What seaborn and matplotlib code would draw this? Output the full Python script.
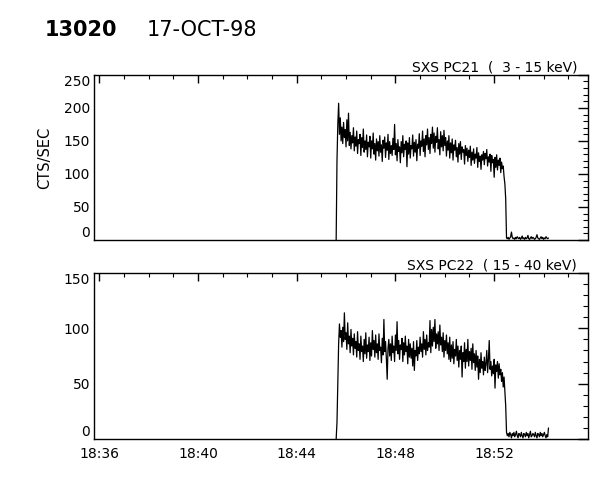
import pandas as pd
import matplotlib
matplotlib.use("Agg")
import matplotlib.pyplot as plt
import matplotlib.dates as mdates
import seaborn as sns

OBS_ID = "13020"
OBS_DATE = "17-OCT-98"
START_TIME = "1998-10-17 18:45:36"
STEP = "2s"
XLIM = ("1998-10-17 18:35:48", "1998-10-17 18:55:48")

# SXS PC21 (3 - 15 keV), counts/sec, one value per 2 s
pc21_counts = [
    0, 120, 175, 207, 160, 185, 150, 171, 146, 178,
    155, 167, 141, 182, 150, 192, 143, 163, 138, 158,
    147, 170, 135, 156, 142, 165, 131, 152, 146, 160,
    128, 155, 140, 168, 133, 150, 137, 159, 126, 148,
    141, 157, 124, 150, 138, 162, 130, 146, 121, 153,
    135, 149, 127, 158, 133, 144, 119, 151, 139, 156,
    125, 147, 136, 160, 122, 149, 131, 143, 128, 154,
    137, 175, 129, 146, 120, 152, 134, 141, 117, 149,
    132, 158, 126, 145, 137, 150, 111, 147, 130, 155,
    124, 143, 138, 159, 127, 148, 133, 152, 120, 145,
    139, 161, 128, 150, 142, 165, 134, 153, 126, 158,
    144, 168, 137, 155, 131, 160, 146, 171, 139, 162,
    133, 157, 148, 170, 138, 152, 129, 164, 141, 158,
    135, 166, 143, 155, 127, 150, 136, 158, 124, 147,
    132, 153, 121, 144, 136, 151, 126, 140, 118, 146,
    130, 149, 122, 141, 133, 137, 115, 143, 128, 139,
    119, 136, 125, 142, 113, 133, 121, 138, 116, 130,
    124, 140, 110, 132, 119, 127, 107, 129, 121, 134,
    114, 131, 123, 137, 112, 126, 118, 130, 104, 128,
    117, 122, 95, 125, 110, 129, 106, 121, 113, 124,
    102, 118, 108, 112, 96, 85, 62, 3, 2, 4,
    1, 3, 5, 12, 4, 2, 3, 1, 4, 2,
    5, 3, 2, 4, 1, 3, 6, 2, 3, 1,
    4, 2, 3, 7, 2, 1, 3, 5, 2, 4,
    3, 1, 2, 4, 8, 3, 2, 1, 3, 5,
    2, 4, 1, 3, 2, 5, 3, 2, 3,
]

# SXS PC22 (15 - 40 keV)
pc22_counts = [
    0, 15, 50, 86, 104, 92, 98, 83, 101, 88,
    114, 90, 96, 81, 105, 86, 93, 78, 99, 84,
    91, 76, 95, 82, 88, 74, 97, 80, 86, 72,
    93, 79, 84, 70, 90, 77, 96, 73, 85, 79,
    92, 71, 87, 75, 98, 81, 89, 74, 94, 78,
    86, 72, 95, 80, 83, 69, 91, 76, 108, 79,
    88, 73, 54, 82, 90, 75, 86, 71, 93, 78,
    84, 70, 94, 80, 106, 77, 89, 72, 85, 81,
    91, 70, 87, 76, 93, 79, 84, 68, 90, 74,
    86, 73, 82, 66, 88, 62, 80, 75, 89, 71,
    83, 77, 92, 79, 86, 74, 97, 81, 90, 76,
    94, 80, 87, 83, 107, 78, 99, 84, 101, 88,
    108, 82, 95, 86, 97, 80, 103, 85, 92, 79,
    96, 74, 89, 80, 94, 77, 87, 72, 92, 70,
    85, 73, 88, 68, 81, 75, 90, 71, 84, 65,
    80, 72, 84, 56, 78, 70, 87, 64, 81, 70,
    90, 66, 79, 71, 82, 63, 86, 69, 77, 62,
    80, 65, 75, 54, 72, 60, 78, 64, 70, 58,
    74, 62, 68, 80, 60, 72, 89, 63, 70, 57,
    66, 59, 72, 46, 67, 61, 70, 55, 68, 58,
    63, 52, 60, 47, 56, 43, 30, 6, 3, 5,
    2, 6, 4, 1, 5, 3, 6, 2, 4, 7,
    3, 1, 5, 4, 2, 6, 3, 1, 5, 4,
    2, 6, 3, 5, 1, 4, 7, 2, 3, 5,
    4, 2, 6, 3, 1, 5, 4, 2, 6, 3,
    5, 2, 4, 6, 3, 1, 4, 2, 10,
]

panel_labels = ["SXS PC21  (  3 - 15 keV)", "SXS PC22  ( 15 - 40 keV)"]
y_limits = [(0, 250), (0, 150)]
y_ticks = [[0, 50, 100, 150, 200, 250], [0, 50, 100, 150]]

sns.set_style("white")
plt.rcParams["font.family"] = ["DejaVu Sans"]
plt.rcParams["text.color"] = "black"
plt.rcParams["xtick.color"] = "black"
plt.rcParams["ytick.color"] = "black"
plt.rcParams["axes.labelcolor"] = "black"

times = pd.date_range(START_TIME, periods=len(pc21_counts), freq=STEP)
df = pd.DataFrame({"time": times, "pc21": pc21_counts, "pc22": pc22_counts})

fig = plt.figure(figsize=(6, 4.8), dpi=100)
ax_top = fig.add_axes([0.157, 0.5, 0.823, 0.344])
ax_bot = fig.add_axes([0.157, 0.0854, 0.823, 0.3458])

for ax, col, label, ylim, yt in zip([ax_top, ax_bot], ["pc21", "pc22"], panel_labels, y_limits, y_ticks):
    sns.lineplot(data=df, x="time", y=col, ax=ax, color="black", lw=0.9, estimator=None)
    ax.set_xlim(pd.Timestamp(XLIM[0]), pd.Timestamp(XLIM[1]))
    ax.set_ylim(*ylim)
    ax.set_yticks(yt)
    ax.yaxis.set_minor_locator(plt.MultipleLocator(10))
    ax.xaxis.set_major_locator(mdates.MinuteLocator(byminute=range(0, 60, 4)))
    ax.xaxis.set_minor_locator(mdates.MinuteLocator())
    ax.xaxis.set_major_formatter(mdates.DateFormatter("%H:%M"))
    ax.tick_params(which="both", direction="in", top=True, right=True, color="black", labelsize=10)
    ax.tick_params(axis="y", which="major", length=7, width=1, pad=3)
    ax.tick_params(axis="y", which="minor", length=3.5, width=0.8)
    ax.tick_params(axis="x", which="major", length=6, width=1, pad=6)
    ax.tick_params(axis="x", which="minor", length=3, width=0.8)
    for s in ax.spines.values():
        s.set_visible(True)
        s.set_color("black")
        s.set_linewidth(1.0)
    ax.set_xlabel("")
    ax.set_ylabel("")
    ax.text(0.978, 1.005, label, transform=ax.transAxes, ha="right", va="bottom", fontsize=10)
    labels = ax.get_yticklabels()
    labels[0].set_va("bottom")
    labels[-1].set_va("top")

ax_top.tick_params(axis="x", labelbottom=False)
ax_top.set_ylabel("CTS/SEC", fontsize=10.5, labelpad=8)

fig.text(0.075, 0.9375, OBS_ID, fontsize=15, fontweight="bold", va="center", ha="left")
fig.text(0.245, 0.9375, OBS_DATE, fontsize=15, va="center", ha="left")

fig.savefig("out.png", dpi=100, facecolor="white")
